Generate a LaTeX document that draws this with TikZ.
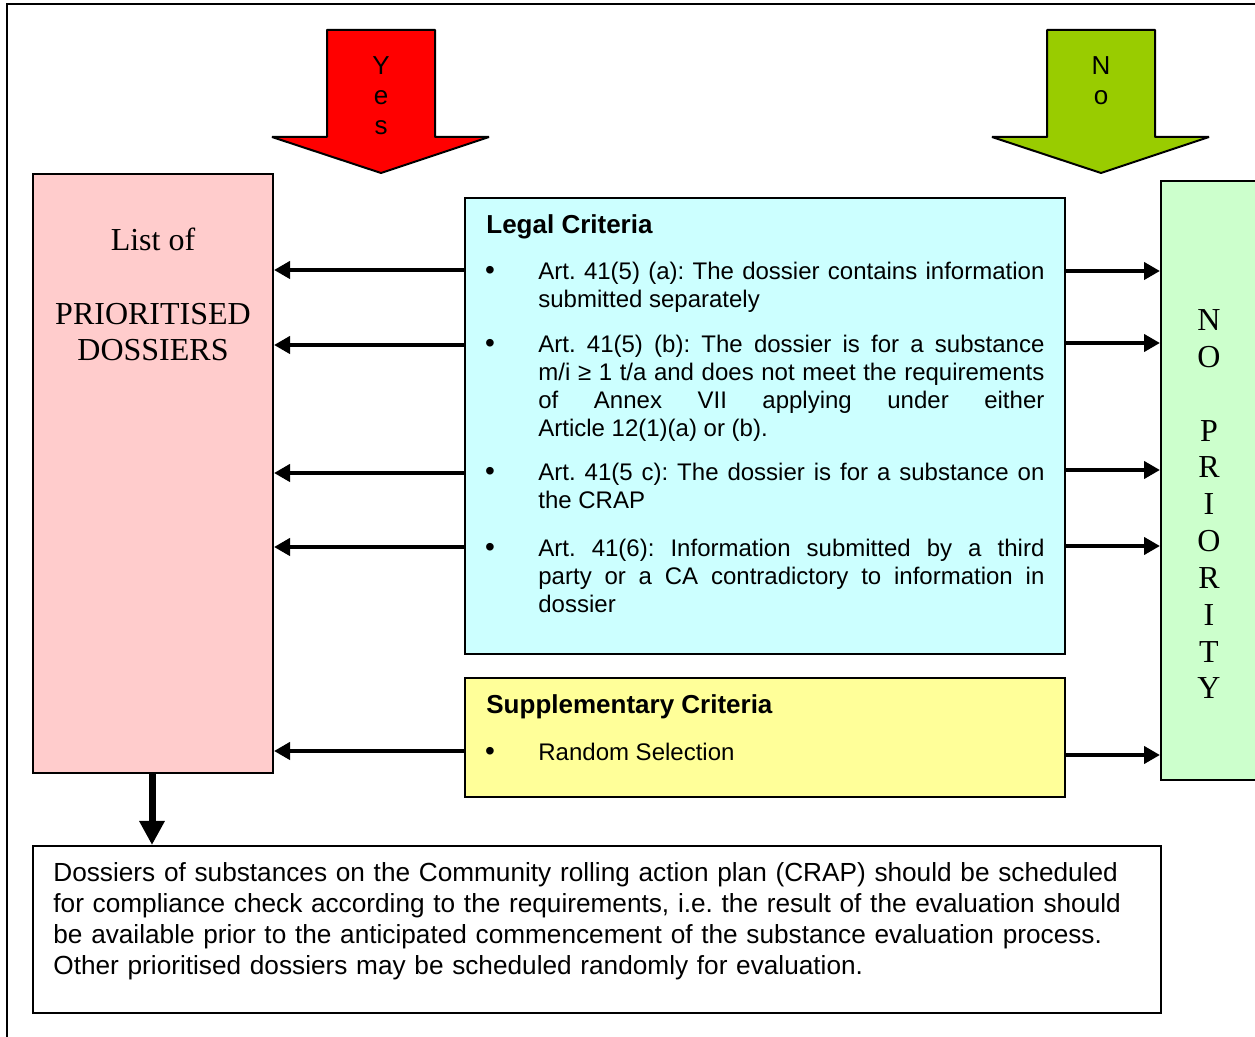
\documentclass[tikz,border=0pt]{standalone}
\usepackage{fontspec}
\setmainfont{Liberation Serif}
\setsansfont{Liberation Sans}
\usetikzlibrary{arrows.meta,fit}
\definecolor{yesred}{HTML}{FF0000}
\definecolor{nogreen}{HTML}{99CC00}
\definecolor{pinkfill}{HTML}{FFCCCC}
\definecolor{cyanfill}{HTML}{CCFFFF}
\definecolor{yellowfill}{HTML}{FFFF99}
\definecolor{greenfill}{HTML}{CCFFCC}
\begin{document}
\frenchspacing
\begin{tikzpicture}[x=0.5pt,y=-0.5pt,
  box/.style={draw=black, line width=1pt, inner sep=0pt},
  conn/.style={line width=2pt, -{Triangle[length=8pt,width=8.5pt]}},
  bigarrow/.style={draw=black, line width=1pt, line join=bevel},
  arrowtext/.style={font=\sffamily\fontsize{13}{15}\selectfont, anchor=base, inner sep=0pt},
  serifline/.style={font=\rmfamily\fontsize{16}{18.5}\selectfont, anchor=base, inner sep=0pt},
  heading/.style={font=\sffamily\bfseries\fontsize{13}{15}\selectfont, anchor=base west, inner sep=0pt},
  bulletmark/.style={font=\sffamily\fontsize{14}{14}\selectfont, anchor=base, inner sep=0pt},
  body/.style={font=\sffamily\fontsize{12}{14}\selectfont, text width=253pt, align=justify, inner sep=0pt, anchor=base west},
  note/.style={font=\sffamily\fontsize{13.1}{15.35}\selectfont, text width=560pt, align=left, inner sep=0pt, anchor=base west}]
\useasboundingbox (0,0) rectangle (1255,1037);
\clip (0,0) rectangle (1255,1037);

% page frame
\draw[line width=1.2pt] (7,1045) -- (7,4) -- (1265,4);

% decision arrows
\draw[bigarrow, fill=yesred] (327,30) -- (435,30) -- (435,137) -- (489,137) -- (381,173) -- (272,137) -- (327,137) -- cycle;
\node[arrowtext] (y1) at (381,75) {Y};
\node[arrowtext] (y2) at (381,105) {e};
\node[arrowtext] (y3) at (381,135) {s};
\draw[bigarrow, fill=nogreen] (1047,30) -- (1155,30) -- (1155,137) -- (1209,137) -- (1101,173) -- (992,137) -- (1047,137) -- cycle;
\node[arrowtext] (n1) at (1101,75) {N};
\node[arrowtext] (n2) at (1101,105) {o};

% boxes
\node[box, fill=pinkfill, fit={(33,174) (273,773)}] (pink) {};
\node[box, fill=cyanfill, fit={(465,198) (1065,654)}] (cyan) {};
\node[box, fill=yellowfill, fit={(465,678) (1065,797)}] (yellow) {};
\node[box, fill=greenfill, fit={(1161,181) (1259,780)}] (green) {};
\node[box, fill=white, fit={(33,846) (1161,1013)}] (bottom) {};

% prioritised list
\node[serifline] (p1) at (153,250.5) {List of};
\node[serifline] (p2) at (153,324.5) {PRIORITISED};
\node[serifline] (p3) at (153,360.5) {DOSSIERS};

% no priority, vertical
\foreach \ch/\k in {N/0,O/1,P/3,R/4,I/5,O/6,R/7,I/8,T/9,Y/10}
  \node[serifline] (g\k) at (1209,330.5+36.85*\k) {\ch};

% legal criteria
\node[heading] (lc) at (486,234) {Legal Criteria};
\node[bulletmark] (b1) at (490,280) {\textbullet};
\node[body] (t1) at (538,280) {Art. 41(5) (a): The dossier contains information\linebreak submitted separately};
\node[bulletmark] (b2) at (490,352.5) {\textbullet};
\node[body] (t2) at (538,352.5) {Art. 41(5) (b): The dossier is for a substance\linebreak m/i ≥ 1 t/a and does not meet the requirements\linebreak of Annex VII applying under either\linebreak Article 12(1)(a) or (b).};
\node[bulletmark] (b3) at (490,480.5) {\textbullet};
\node[body] (t3) at (538,480.5) {Art. 41(5 c): The dossier is for a substance on\linebreak the CRAP};
\node[bulletmark] (b4) at (490,556.5) {\textbullet};
\node[body] (t4) at (538,556.5) {Art. 41(6): Information submitted by a third\linebreak party or a CA contradictory to information in\linebreak dossier};

% supplementary criteria
\node[heading] (sc) at (486,714) {Supplementary Criteria};
\node[bulletmark] (b5) at (490,760.5) {\textbullet};
\node[body] (t5) at (538,760.5) {Random Selection};

% closing note
\node[note] (nt) at (53,882) {Dossiers of substances on the Community rolling action plan (CRAP) should be scheduled\\for compliance check according to the requirements, i.e. the result of the evaluation should\\be available prior to the anticipated commencement of the substance evaluation process.\\Other prioritised dossiers may be scheduled randomly for evaluation.};

% connectors to the prioritised list
\foreach \yy in {270,345,473,547}
  \draw[conn] (cyan.west |- 0,\yy) -- (pink.east |- 0,\yy);
\draw[conn] (yellow.west |- 0,751) -- (pink.east |- 0,751);

% connectors to no priority
\foreach \yy in {271,343,470,546}
  \draw[conn] (cyan.east |- 0,\yy) -- (green.west |- 0,\yy);
\draw[conn] (yellow.east |- 0,755) -- (green.west |- 0,755);

% onward to scheduling
\draw[line width=3.5pt, -{Triangle[length=12pt,width=12pt]}] (pink.south -| 152,0) -- (bottom.north -| 152,0);
\end{tikzpicture}
\end{document}
